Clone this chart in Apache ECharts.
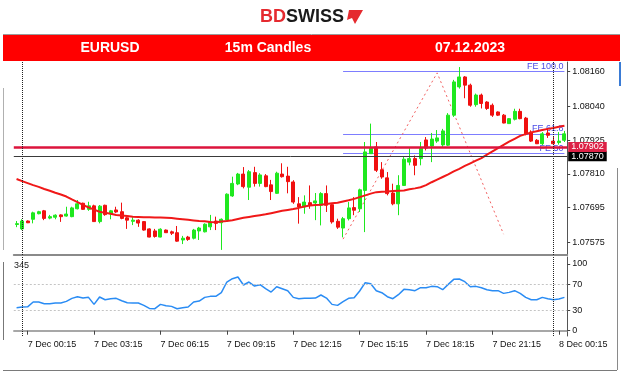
<!DOCTYPE html>
<html><head><meta charset="utf-8">
<script src="https://cdn.jsdelivr.net/npm/echarts@6/dist/echarts.min.js"></script>
<style>html,body{margin:0;padding:0;background:#fff}#c{width:624px;height:376px}</style>
</head><body><div id="c"></div>
<script>
// ---- data ----
const opens = [1.07636,1.07621,1.07648,1.07654,1.07673,1.07683,1.07658,1.07661,1.07669,1.07665,
1.07663,1.07690,1.07709,1.07688,1.07700,1.07646,1.07702,1.07672,1.07686,1.07680,
1.07659,1.07647,1.07651,1.07646,1.07621,1.07614,1.07593,1.07617,1.07611,1.07608,
1.07583,1.07593,1.07589,1.07614,1.07611,1.07628,1.07648,1.07642,1.07651,1.07734,
1.07775,1.07809,1.07764,1.07814,1.07777,1.07803,1.07772,1.07743,1.07809,1.07802,
1.07782,1.07707,1.07696,1.07711,1.07710,1.07702,1.07742,1.07704,1.07647,1.07624,
1.07656,1.07694,1.07690,1.07753,1.07879,1.07902,1.07824,1.07796,1.07744,1.07707,
1.07770,1.07850,1.07862,1.07862,1.07926,1.07905,1.07922,1.07909,1.07908,1.08011,
1.08108,1.08142,1.08114,1.08047,1.08080,1.08056,1.08045,1.08022,1.08011,1.07982,
1.07997,1.08024,1.08001,1.07953,1.07925,1.07913,1.07950,1.07922,1.07917,1.07925];
const closes = [1.07639,1.07648,1.07642,1.07676,1.07680,1.07657,1.07663,1.07668,1.07663,1.07672,
1.07693,1.07707,1.07688,1.07700,1.07646,1.07699,1.07670,1.07683,1.07679,1.07657,
1.07651,1.07651,1.07641,1.07617,1.07593,1.07595,1.07620,1.07608,1.07606,1.07579,
1.07589,1.07585,1.07617,1.07624,1.07637,1.07645,1.07640,1.07654,1.07740,1.07777,
1.07809,1.07766,1.07817,1.07777,1.07806,1.07766,1.07749,1.07812,1.07800,1.07783,
1.07713,1.07696,1.07713,1.07702,1.07717,1.07742,1.07702,1.07645,1.07627,1.07656,
1.07693,1.07685,1.07755,1.07885,1.07898,1.07822,1.07799,1.07742,1.07707,1.07770,
1.07860,1.07862,1.07839,1.07898,1.07898,1.07929,1.07933,1.07957,1.08011,1.08125,
1.08142,1.08114,1.08045,1.08080,1.08051,1.08034,1.08011,1.08011,1.07984,1.07999,
1.08024,1.07999,1.07947,1.07922,1.07913,1.07947,1.07942,1.07913,1.07922,1.07947];
const lows = [1.07627,1.07617,1.07641,1.07640,1.07671,1.07651,1.07654,1.07654,1.07645,1.07663,
1.07661,1.07688,1.07686,1.07683,1.07645,1.07640,1.07666,1.07654,1.07676,1.07654,
1.07621,1.07634,1.07628,1.07615,1.07592,1.07591,1.07592,1.07607,1.07600,1.07577,
1.07569,1.07580,1.07585,1.07583,1.07609,1.07617,1.07617,1.07549,1.07649,1.07731,
1.07771,1.07760,1.07720,1.07766,1.07766,1.07764,1.07720,1.07741,1.07797,1.07743,
1.07707,1.07639,1.07673,1.07690,1.07651,1.07633,1.07679,1.07639,1.07621,1.07592,
1.07650,1.07668,1.07679,1.07610,1.07878,1.07816,1.07793,1.07736,1.07702,1.07668,
1.07768,1.07839,1.07805,1.07839,1.07890,1.07850,1.07916,1.07902,1.07905,1.08005,
1.08102,1.08069,1.08040,1.08040,1.08034,1.08029,1.08005,1.08008,1.07983,1.07981,
1.07993,1.07997,1.07942,1.07919,1.07912,1.07908,1.07933,1.07908,1.07910,1.07919];
const highs = [1.07648,1.07654,1.07650,1.07680,1.07683,1.07686,1.07669,1.07671,1.07671,1.07697,
1.07697,1.07720,1.07711,1.07714,1.07704,1.07703,1.07704,1.07686,1.07697,1.07711,
1.07663,1.07661,1.07654,1.07648,1.07623,1.07621,1.07623,1.07619,1.07615,1.07631,
1.07597,1.07597,1.07621,1.07628,1.07640,1.07669,1.07663,1.07657,1.07743,1.07800,
1.07813,1.07833,1.07823,1.07834,1.07812,1.07809,1.07789,1.07817,1.07846,1.07834,
1.07788,1.07730,1.07736,1.07770,1.07744,1.07747,1.07770,1.07707,1.07656,1.07662,
1.07713,1.07730,1.07759,1.07919,1.07982,1.07919,1.07850,1.07816,1.07776,1.07805,
1.07868,1.07898,1.07873,1.07919,1.07936,1.07950,1.07960,1.07964,1.08018,1.08132,
1.08176,1.08145,1.08119,1.08085,1.08085,1.08059,1.08051,1.08024,1.08015,1.08001,
1.08033,1.08033,1.08005,1.07959,1.07929,1.07953,1.07965,1.07936,1.07953,1.07957];
const maValues = [1.07792,1.07785,1.07778,1.07771,1.07765,1.07758,1.07752,1.07745,1.07739,1.07732,
1.07722,1.07713,1.07703,1.07695,1.07687,1.07680,1.07676,1.07673,1.07669,1.07667,
1.07665,1.07663,1.07662,1.07661,1.07661,1.07660,1.07660,1.07659,1.07658,1.07656,
1.07654,1.07652,1.07650,1.07648,1.07647,1.07645,1.07644,1.07646,1.07648,1.07651,
1.07655,1.07659,1.07662,1.07665,1.07668,1.07671,1.07675,1.07679,1.07683,1.07686,
1.07689,1.07693,1.07698,1.07701,1.07703,1.07704,1.07706,1.07709,1.07711,1.07715,
1.07719,1.07724,1.07730,1.07736,1.07742,1.07747,1.07748,1.07749,1.07751,1.07752,
1.07753,1.07757,1.07760,1.07764,1.07771,1.07781,1.07790,1.07799,1.07808,1.07818,
1.07827,1.07837,1.07846,1.07855,1.07864,1.07876,1.07887,1.07898,1.07909,1.07920,
1.07930,1.07940,1.07946,1.07952,1.07956,1.07960,1.07964,1.07967,1.07971,1.07975];
const oscValues = [34.5,35.5,35.8,43,43,40.5,40.5,41.5,41.5,44,
48.5,51,49,50,39.5,50.5,46.5,48,48.5,45,
42,41.5,41.5,38,33.5,33,39.5,37.5,36.5,33,
34.5,35.5,43,44.5,50,51.5,51.5,57,73,78,
80.5,68.5,73,67,69,63,58,66,63,60,
50,48,48.5,48.5,49,53.5,49,39.5,38,43.5,
48.5,49.5,59.5,72,70.5,60,57,51,48,54,
62,61.5,60,64.5,64.5,66.5,66,61.5,69.5,77,
77.5,73.5,66,66.5,64.5,61.5,60,60,56,57.5,
60,56,50,46.5,46.5,50,48,46.5,47.5,50];
const priceTicks = [1.07575,1.07695,1.07810,1.07925,1.08040,1.08160];
const oscTicks = [0,30,70,100];
const oscLevels = [70,30];
const feLevels = [1.08160,1.07946,1.07879];
const feNames = ['FE 100.0','FE 61.8','FE 50'];
const fibIdx = [59,76,88];
const fibPrices = [1.07586,1.08156,1.07603];
const redLevel = 1.07902, grayLevel = 1.07870;
const vLineIdx = [1,97];
const firstBarDay = 6, firstBarMinutes = 23*60+45, barMinutes = 15;

// categories (bar times)
const cats = [];
for (let i = 0; i < opens.length; i++) {
  const m = firstBarMinutes + barMinutes*i;
  const d = firstBarDay + Math.floor(m/1440);
  const mm = m % 1440;
  const hh = String(Math.floor(mm/60)).padStart(2,'0');
  const mi = String(mm%60).padStart(2,'0');
  cats.push(d + ' Dec ' + hh + ':' + mi);
}
const showLab = (i) => (i - 2) % 12 === 0 && i >= 2;
const FONT = 'Liberation Sans, Arial, sans-serif';

const chart = echarts.init(document.getElementById('c'), null, {renderer:'canvas'});
const candleData = opens.map((o,i)=>[o, closes[i], lows[i], highs[i]]);

const levelLine = (v, col, w, bg) => ({
  yAxis: v,
  lineStyle: {color: col, width: w, type: 'solid'},
  label: {show: true, position: 'end', distance: 1, formatter: () => v.toFixed(5),
    backgroundColor: bg, color: '#fff', fontSize: 9, fontFamily: FONT, padding: [1,3,0,3]}
});

const option = {
  animation: false,
  backgroundColor: '#fff',
  grid: [
    {left: 13.8, right: 56.8, top: 62, height: 193},
    {left: 13.8, right: 56.8, top: 257, height: 79}
  ],
  xAxis: [
    {type:'category', gridIndex:0, data:cats, boundaryGap:true,
     axisLine:{show:true, lineStyle:{color:'#8a8a8a', width:2}},
     axisTick:{show:false}, axisLabel:{show:false}, splitLine:{show:false}},
    {type:'category', gridIndex:1, data:cats, boundaryGap:true,
     axisLine:{show:true, lineStyle:{color:'#8a8a8a', width:1.5}},
     axisTick:{show:true, alignWithLabel:true, interval:(i)=>showLab(i), length:4, lineStyle:{color:'#444'}},
     axisLabel:{show:true, interval:(i)=>showLab(i), align:'left', margin:4, fontSize:9, fontFamily:FONT, color:'#111'},
     splitLine:{show:false}}
  ],
  yAxis: [
    {type:'value', gridIndex:0, position:'right', min:1.075315, max:1.081933, scale:true,
     axisLine:{show:true, lineStyle:{color:'#555', width:1}},
     axisTick:{show:true, customValues:priceTicks, length:3, lineStyle:{color:'#444'}},
     axisLabel:{show:true, customValues:priceTicks, formatter:(v)=>v.toFixed(5), margin:5, fontSize:9, fontFamily:FONT, color:'#111'},
     splitLine:{show:false}},
    {type:'value', gridIndex:1, position:'right', min:-7.9, max:110.5,
     axisLine:{show:true, lineStyle:{color:'#555', width:1}},
     axisTick:{show:true, customValues:oscTicks, length:3, lineStyle:{color:'#444'}},
     axisLabel:{show:true, customValues:oscTicks, margin:5, fontSize:9, fontFamily:FONT, color:'#111'},
     splitLine:{show:false}}
  ],
  series: [
    {type:'candlestick', xAxisIndex:0, yAxisIndex:0, data:candleData, barWidth:3.5, z:3,
     itemStyle:{color:'#1fe81f', color0:'#f01010', borderColor:'#1fe81f', borderColor0:'#f01010', borderWidth:1}},
    {type:'line', xAxisIndex:0, yAxisIndex:0, data:maValues, showSymbol:false, symbol:'none', z:4,
     lineStyle:{color:'#f01818', width:2},
     markLine:{silent:true, symbol:'none', z:6, precision:5,
       data:[
         levelLine(grayLevel, '#3a3a3a', 1, '#000'),
         levelLine(redLevel, '#dc143c', 2.5, '#dc2045'),
         ...vLineIdx.map(i=>({xAxis:cats[i], lineStyle:{color:'#222', type:'dotted', width:1}, label:{show:false}}))
       ]}},
    {type:'line', xAxisIndex:0, yAxisIndex:0, data:fibIdx.map((k,j)=>[cats[k], fibPrices[j]]),
     showSymbol:false, symbol:'none', z:2, lineStyle:{color:'#f26060', width:1, type:[2,3]},
     markLine:{silent:true, symbol:'none', z:2, precision:5,
       data: feLevels.map((v,j)=>[
         {coord:[cats[fibIdx[0]], v], lineStyle:{color:'#7d7dff', width:1, type:'solid'},
          label:{show:true, position:'insideEndTop', formatter:feNames[j], color:'#4a4ae6', fontSize:9, fontFamily:FONT, distance:1}},
         {coord:[cats[cats.length-1], v]}
       ])}},
    {type:'line', xAxisIndex:1, yAxisIndex:1, data:oscValues, showSymbol:false, symbol:'none',
     lineStyle:{color:'#2a8cf4', width:1.5},
     markLine:{silent:true, symbol:'none',
       data:[
         ...oscLevels.map(v=>({yAxis:v, lineStyle:{color:'#c4c4c4', type:[2,2], width:1}, label:{show:false}})),
         ...vLineIdx.map(i=>({xAxis:cats[i], lineStyle:{color:'#222', type:'dotted', width:1}, label:{show:false}}))
       ]}}
  ],
  graphic: [
    {type:'rect', shape:{x:3, y:35, width:617, height:26}, style:{fill:'#ff0000'}},
    {type:'line', shape:{x1:3, y1:34.5, x2:620, y2:34.5}, style:{stroke:'#9a9a9a', lineWidth:1}},
    {type:'text', x:110, y:48, style:{text:'EURUSD', fill:'#fff', font:'bold 14px Liberation Sans, Arial', align:'center', verticalAlign:'middle'}},
    {type:'text', x:268, y:48, style:{text:'15m Candles', fill:'#fff', font:'bold 14px Liberation Sans, Arial', align:'center', verticalAlign:'middle'}},
    {type:'text', x:470, y:48, style:{text:'07.12.2023', fill:'#fff', font:'bold 14px Liberation Sans, Arial', align:'center', verticalAlign:'middle'}},
    {type:'text', x:260, y:17, style:{text:'{a|BD}{b|SWISS}', verticalAlign:'middle',
      rich:{a:{fill:'#e52a2f', font:'bold 18px Liberation Sans, Arial'}, b:{fill:'#1a1a1a', font:'bold 18px Liberation Sans, Arial'}}}},
    {type:'polygon', shape:{points:[[349,10],[363,10],[355,24],[352,18],[347,20]]}, style:{fill:'#e52a2f'}},
    {type:'text', x:14, y:266, style:{text:'345', fill:'#222', font:'9px Liberation Sans, Arial', verticalAlign:'middle'}},
    {type:'line', shape:{x1:3, y1:370.5, x2:617, y2:370.5}, style:{stroke:'#7a7a7a', lineWidth:1}},
    {type:'line', shape:{x1:617.5, y1:168, x2:617.5, y2:370}, style:{stroke:'#8a8a8a', lineWidth:1}},
    {type:'line', shape:{x1:620, y1:62, x2:620, y2:86}, style:{stroke:'#3a7bd5', lineWidth:2}},
    {type:'line', shape:{x1:3.5, y1:88, x2:3.5, y2:250}, style:{stroke:'#b0b0b0', lineWidth:1}},
    {type:'line', shape:{x1:3.5, y1:262, x2:3.5, y2:340}, style:{stroke:'#777', lineWidth:1}}
  ]
};
chart.setOption(option);
</script>
</body></html>
